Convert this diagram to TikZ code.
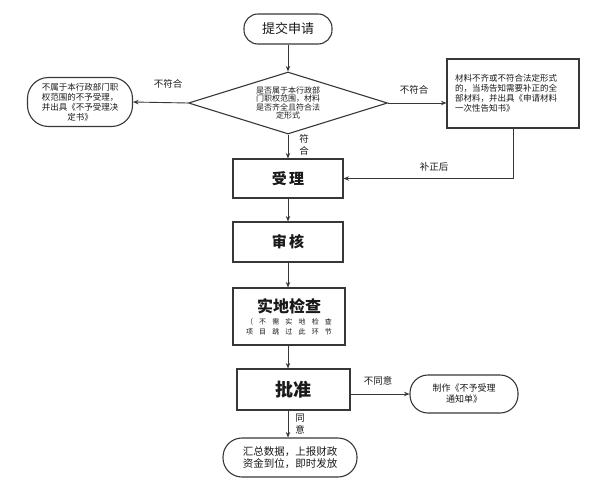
\documentclass[tikz,border=0pt]{standalone}
\usepackage{fontspec}
\setmainfont{Noto Sans CJK SC}
\usepackage{xcolor}
\definecolor{lineGray}{RGB}{55,55,55}
\definecolor{textGray}{RGB}{25,25,25}
\usepackage{tikz}
\usetikzlibrary{shapes.geometric, arrows.meta, positioning, calc}

\begin{document}
\begin{tikzpicture}[x=1pt, y=-1pt, text=textGray,
    stepbox/.style={draw=lineGray, line width=1.1pt, minimum width=110pt, minimum height=39pt,
      font=\fontsize{15}{17}\selectfont\bfseries},
    pill/.style={draw=lineGray, line width=1.1pt, align=center, inner sep=2pt},
    small/.style={font=\fontsize{8.5}{10}\selectfont},
    tag/.style={font=\fontsize{9.5}{12.5}\selectfont, align=center, inner sep=0pt},
    arr/.style={draw=lineGray, line width=0.9pt, -{Stealth[length=5.5pt,width=4.5pt]}}]
  \useasboundingbox (0,0) rectangle (596,485);

  % Inicio
  \node[pill, rounded corners=14pt, minimum width=88pt, minimum height=30pt,
        font=\fontsize{13}{15}\selectfont] (start) at (288,29) {提交申请};

  % Rombo de decision
  \node[diamond, draw=lineGray, line width=1.1pt, aspect=3.2, minimum width=199pt,
        minimum height=62pt, inner sep=0pt, align=center,
        font=\fontsize{8}{8.4}\selectfont] (check) at (288,103)
        {是否属于本行政部\\门职权范围，材料\\是否齐全且符合法\\定形式};

  % Salidas laterales
  \node[pill, rounded corners=21pt, minimum width=105pt, minimum height=49pt, small]
        (outScope) at (80,102)
        {不属于本行政部门职\\权范围的不予受理，\\并出具《不予受理决\\定书》};
  \node[draw=lineGray, line width=1.1pt, minimum width=132pt, minimum height=69pt,
        text width=116pt, align=left, inner sep=0pt, small] (incomplete) at (513,93.5)
        {材料不齐或不符合法定形式\\的，当场告知需要补正的全\\部材料，并出具《申请材料\\一次性告知书》};

  % Pasos principales
  \node[stepbox] (accept) at (288,178.5) {受\,理};
  \node[stepbox, minimum height=40pt] (review) at (288,242) {审\,核};
  \node[stepbox, minimum width=112pt, minimum height=57pt, align=center] (site) at (289,316.5)
        {{\fontsize{16}{18}\selectfont\bfseries 实地检查}\\[-5pt]
         {\fontsize{7}{10}\selectfont\mdseries\makebox[86pt][s]{（\hfill 不\hfill 需\hfill 实\hfill 地\hfill 检\hfill 查}}\\[-7pt]
         {\fontsize{7}{10}\selectfont\mdseries\makebox[86pt][s]{项\hfill 目\hfill 跳\hfill 过\hfill 此\hfill 环\hfill 节}}};
  \node[stepbox, minimum width=113pt, minimum height=41pt,
        font=\fontsize{18}{20}\selectfont\bfseries] (approve) at (293.5,389.5) {批准};

  % Finales
  \node[pill, rounded corners=18pt, minimum width=108pt, minimum height=38pt,
        font=\fontsize{9}{11}\selectfont] (reject) at (464,394) {制作《不予受理\\通知单》};
  \node[pill, rounded corners=19pt, minimum width=134pt, minimum height=39pt,
        font=\fontsize{10.5}{12}\selectfont] (release) at (290,457.5)
        {汇总数据，上报财政\\资金到位，即时发放};

  % Etiquetas
  \node[tag] (noLeft) at (168,84) {不符合};
  \node[tag] (noRight) at (414,90) {不符合};
  \node[tag] (yesCheck) at (304,145) {符\\合};
  \node[tag] (afterFix) at (434,167) {补正后};
  \node[tag] (noApprove) at (378,381) {不同意};
  \node[tag] (yesApprove) at (300,424) {同\\意};

  % Flechas
  \draw[arr] (start) -- (check);
  \draw[arr] (check.west) -- (outScope.east);
  \draw[arr] (check.east) -- (check.east -| incomplete.west);
  \draw[arr] (incomplete.south) |- (accept.east);
  \draw[arr] (check.south) -- (accept.north);
  \draw[arr] (accept) -- (review);
  \draw[arr] (review) -- (review |- site.north);
  \draw[arr] (review |- site.south) -- (review |- approve.north);
  \draw[arr] (approve.east |- reject.west) -- (reject.west);
  \draw[arr] (review |- approve.south) -- (review |- release.north);
\end{tikzpicture}
\end{document}
